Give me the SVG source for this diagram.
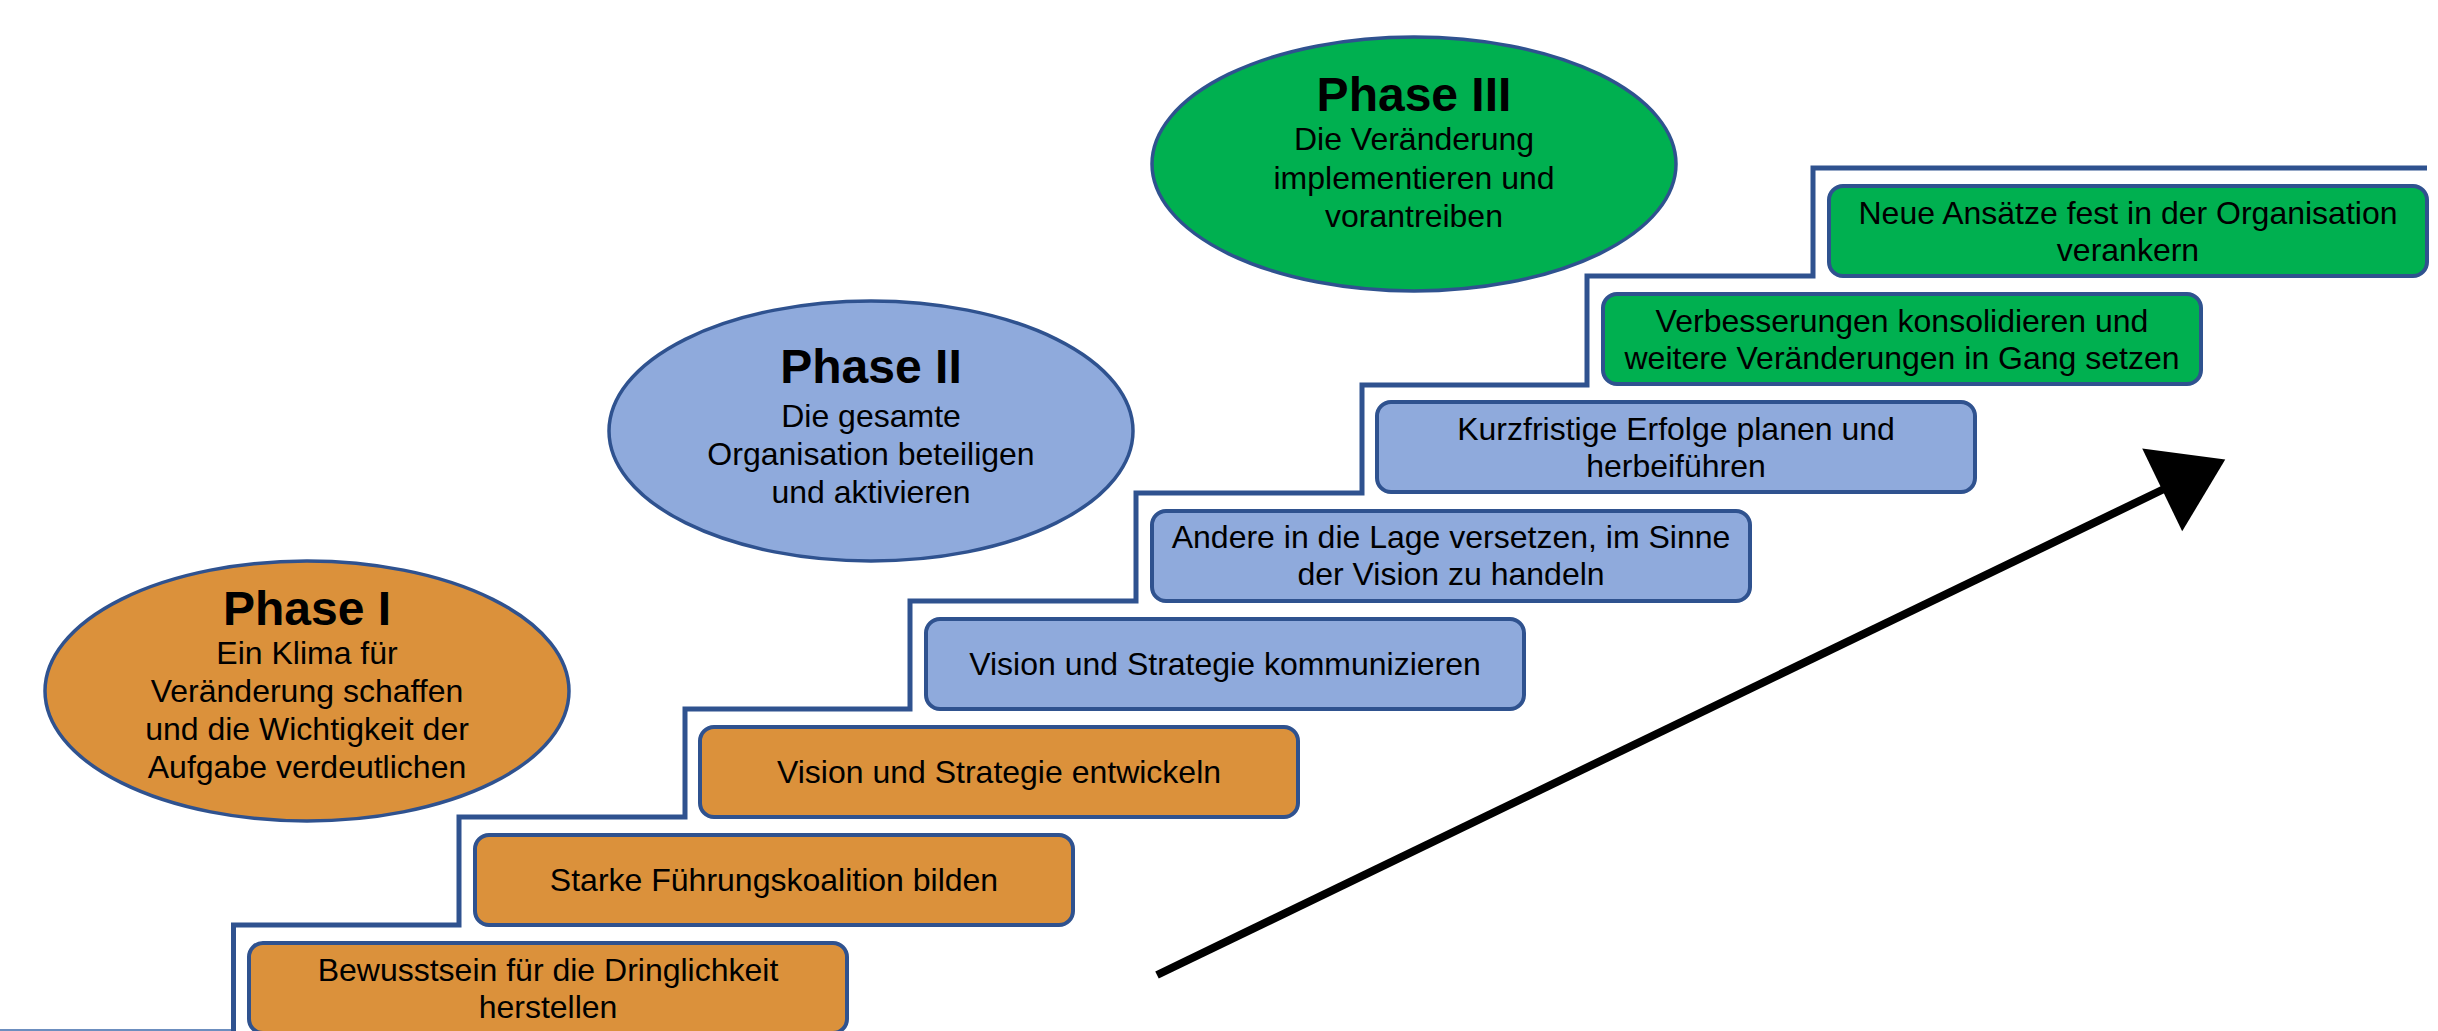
<svg xmlns="http://www.w3.org/2000/svg" width="2438" height="1031" viewBox="0 0 2438 1031">
  <style>
    .txt { font-family: "Liberation Sans", Arial, sans-serif; font-size: 32px; fill: #000; text-anchor: middle; }
    .title { font-family: "Liberation Sans", Arial, sans-serif; font-size: 48px; font-weight: bold; fill: #000; text-anchor: middle; }
    .phase { stroke: #2F528F; stroke-width: 3.5; }
    .box { stroke: #2F528F; stroke-width: 4; }
    .orange { fill: #DB913B; }
    .blue { fill: #8FAADC; }
    .green { fill: #00B050; }
    .stairs { fill: none; stroke: #2F528F; stroke-width: 5; stroke-linejoin: miter; }
  </style>
  <defs>
    <marker id="arrowHead" markerUnits="userSpaceOnUse" markerWidth="72" markerHeight="94" refX="2" refY="46" orient="auto" overflow="visible">
      <path d="M0,0 L70,46 L0,92 Z" fill="#000"/>
    </marker>
  </defs>

  <rect width="2438" height="1031" fill="#fff"/>

  <!-- staircase outline -->
  <g id="stairs">
    <path d="M0,1030 H233" fill="none" stroke="#6C8EBF" stroke-width="2"/>
    <path class="stairs" d="M233.5,1031 V925 H459 V817 H685 V709 H910 V601 H1136 V493 H1362 V385 H1587 V276 H1813 V168 H2427"/>
  </g>

  <!-- phase ellipses -->
  <g id="phase1">
    <ellipse class="phase orange" cx="307" cy="691" rx="262" ry="130"/>
    <text class="title" x="307" y="625">Phase I</text>
    <text class="txt" x="307" y="664">Ein Klima für</text>
    <text class="txt" x="307" y="702">Veränderung schaffen</text>
    <text class="txt" x="307" y="740">und die Wichtigkeit der</text>
    <text class="txt" x="307" y="778">Aufgabe verdeutlichen</text>
  </g>
  <g id="phase2">
    <ellipse class="phase blue" cx="871" cy="431" rx="262" ry="130"/>
    <text class="title" x="871" y="383">Phase II</text>
    <text class="txt" x="871" y="427">Die gesamte</text>
    <text class="txt" x="871" y="465">Organisation beteiligen</text>
    <text class="txt" x="871" y="503">und aktivieren</text>
  </g>
  <g id="phase3">
    <ellipse class="phase green" cx="1414" cy="164" rx="262" ry="127"/>
    <text class="title" x="1414" y="111">Phase III</text>
    <text class="txt" x="1414" y="150">Die Veränderung</text>
    <text class="txt" x="1414" y="189">implementieren und</text>
    <text class="txt" x="1414" y="227">vorantreiben</text>
  </g>

  <!-- step boxes -->
  <g id="step1">
    <rect class="box orange" x="249" y="943" width="598" height="90" rx="14"/>
    <text class="txt" x="548" y="981">Bewusstsein für die Dringlichkeit</text>
    <text class="txt" x="548" y="1018">herstellen</text>
  </g>
  <g id="step2">
    <rect class="box orange" x="475" y="835" width="598" height="90" rx="14"/>
    <text class="txt" x="774" y="891">Starke Führungskoalition bilden</text>
  </g>
  <g id="step3">
    <rect class="box orange" x="700" y="727" width="598" height="90" rx="14"/>
    <text class="txt" x="999" y="783">Vision und Strategie entwickeln</text>
  </g>
  <g id="step4">
    <rect class="box blue" x="926" y="619" width="598" height="90" rx="14"/>
    <text class="txt" x="1225" y="675">Vision und Strategie kommunizieren</text>
  </g>
  <g id="step5">
    <rect class="box blue" x="1152" y="511" width="598" height="90" rx="14"/>
    <text class="txt" x="1451" y="548">Andere in die Lage versetzen, im Sinne</text>
    <text class="txt" x="1451" y="585">der Vision zu handeln</text>
  </g>
  <g id="step6">
    <rect class="box blue" x="1377" y="402" width="598" height="90" rx="14"/>
    <text class="txt" x="1676" y="440">Kurzfristige Erfolge planen und</text>
    <text class="txt" x="1676" y="477">herbeiführen</text>
  </g>
  <g id="step7">
    <rect class="box green" x="1603" y="294" width="598" height="90" rx="14"/>
    <text class="txt" x="1902" y="332">Verbesserungen konsolidieren und</text>
    <text class="txt" x="1902" y="369">weitere Veränderungen in Gang setzen</text>
  </g>
  <g id="step8">
    <rect class="box green" x="1829" y="186" width="598" height="90" rx="14"/>
    <text class="txt" x="2128" y="224">Neue Ansätze fest in der Organisation</text>
    <text class="txt" x="2128" y="261">verankern</text>
  </g>

  <!-- progress arrow -->
  <g id="connectors">
    <line x1="1157" y1="975" x2="2164" y2="489" stroke="#000" stroke-width="8" marker-end="url(#arrowHead)"/>
  </g>
</svg>
